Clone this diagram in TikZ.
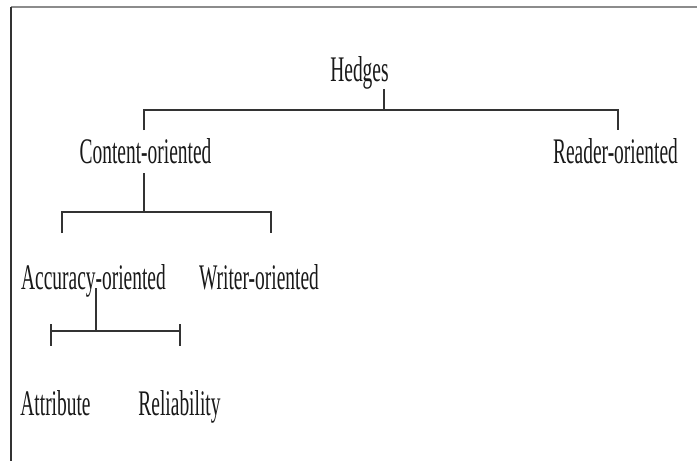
\documentclass[tikz,border=0pt]{standalone}
\usepackage{fontspec}
\setmainfont{Liberation Serif}[FakeStretch=0.54]
\begin{document}
\begin{tikzpicture}[x=1pt, y=-1pt,
  lbl/.style={inner sep=0pt, anchor=base, text=black!90, font=\fontsize{36}{40}\selectfont},
  branch/.style={line width=1.6pt, draw=black!80}]
\useasboundingbox (0,0) rectangle (697,461);
\fill[white] (0,0) rectangle (697,461);
\draw[line width=1.6pt, black!45] (11,7) -- (697,7);
\draw[line width=1.6pt, black!80] (11,7) -- (11,461);
\node[lbl] (hedges) at (359.5,81){Hedges};
\node[lbl] (content) at (145.5,163){Content-oriented};
\node[lbl] (reader) at (615.5,163){Reader-oriented};
\node[lbl] (accuracy) at (93.5,289){Accuracy-oriented};
\node[lbl] (writer) at (259,289){Writer-oriented};
\node[lbl] (attribute) at (55.5,415){Attribute};
\node[lbl] (reliability) at (179.5,415){Reliability};
\coordinate (hedgesfoot) at (384,89);
\coordinate (hedgesbar) at (384,110);
\coordinate (contenttop) at (144,130);
\coordinate (readertop) at (618,130);
\coordinate (contentfoot) at (144,173);
\coordinate (contentbar) at (144,212);
\coordinate (accuracytop) at (62,233);
\coordinate (writertop) at (271,233);
\coordinate (accuracyfoot) at (96,288);
\coordinate (accuracybar) at (96,331);
\coordinate (attributebar) at (51,331);
\coordinate (reliabilitybar) at (180,331);
\coordinate (attributetop) at (51,324);
\coordinate (attributetip) at (51,346);
\coordinate (reliabilitytop) at (180,324);
\coordinate (reliabilitytip) at (180,346);
\draw[branch](hedgesfoot) -- (hedgesbar);
\draw[branch](contenttop) |- (hedgesbar) -| (readertop);
\draw[branch](contentfoot) -- (contentbar);
\draw[branch](accuracytop) |- (contentbar) -| (writertop);
\draw[branch](accuracyfoot) -- (accuracybar);
\draw[branch](attributebar) -- (reliabilitybar);
\draw[branch](attributetop) -- (attributetip);
\draw[branch](reliabilitytop) -- (reliabilitytip);
\end{tikzpicture}
\end{document}
